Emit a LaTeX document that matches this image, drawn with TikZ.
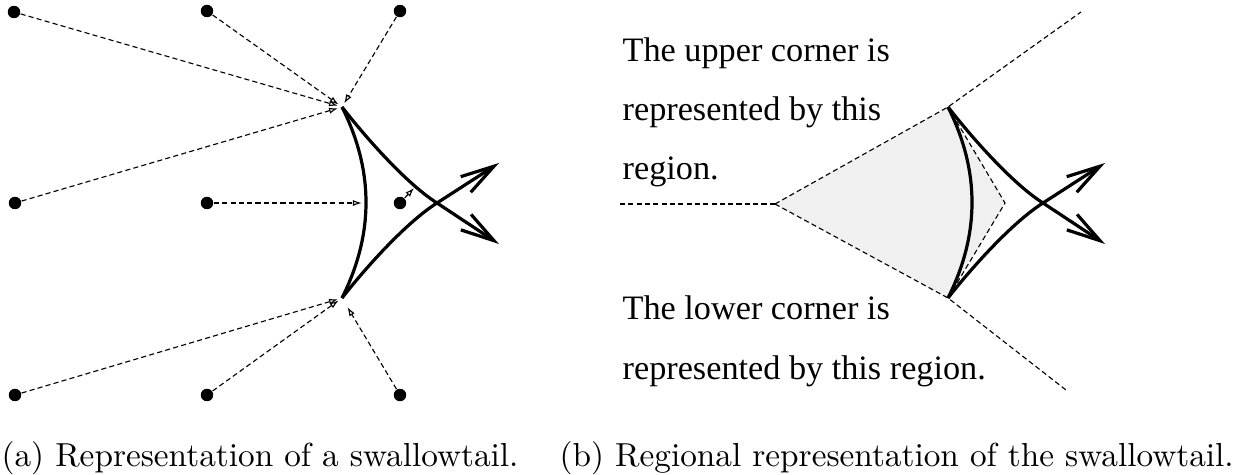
\documentclass[tikz,border=0pt]{standalone}
\usepackage{fontspec}
\newfontfamily\timesfont{Liberation Serif}
\usetikzlibrary{arrows.meta}
\begin{document}
\begin{tikzpicture}[x=0.3125pt,y=-0.3125pt,
  dot/.style={circle,fill=black,inner sep=0pt,minimum size=3.9pt},
  dline/.style={dash pattern=on 1.6pt off 1pt, line width=0.35pt},
  darrow/.style={dline, -{Latex[open,length=2.8pt,width=1.9pt]}, shorten >=1.3pt},
  thickcurve/.style={line width=1pt},
  barbarrow/.style={-{Straight Barb[length=10.5pt,width=5.8pt,line width=1pt]}},
  lbl/.style={anchor=base west,inner sep=0pt,font=\timesfont\fontsize{10.7}{13}\selectfont},
  captext/.style={anchor=base west,inner sep=0pt,font=\fontsize{10.4}{12}\selectfont}]
\useasboundingbox (0,0) rectangle (1239,475);

% ---------- panel (a) ----------
\coordinate (uc) at (342,107);
\coordinate (lc) at (342,298);
\coordinate (cr) at (437,203);
\coordinate (tu) at (499,163);
\coordinate (td) at (499,244);
\coordinate (am) at (366,203);
\coordinate (d6t) at (414,188);

\node[dot] (d1) at (14,12) {};
\node[dot] (d2) at (207,11) {};
\node[dot] (d3) at (400,11) {};
\node[dot] (d4) at (15,203) {};
\node[dot] (d5) at (207,203) {};
\node[dot] (d6) at (400,203) {};
\node[dot] (d7) at (15,395) {};
\node[dot] (d8) at (207,395) {};
\node[dot] (d9) at (400,395) {};

\draw[darrow] (d1) -- (uc);
\draw[darrow] (d2) -- (uc);
\draw[darrow] (d3) -- (uc);
\draw[darrow] (d4) -- (uc);
\draw[darrow] (d5) -- (am);
\draw[darrow, shorten >=0pt] (d6) -- (d6t);
\draw[darrow] (d7) -- (lc);
\draw[darrow] (d8) -- (lc);
\draw[darrow, shorten >=3.3pt] (d9) -- (lc);

\draw[thickcurve] (uc) .. controls (374,171) and (374,234) .. (lc);
\draw[thickcurve, barbarrow] (uc) .. controls (367,139) and (407,184) .. (cr) -- (td);
\draw[thickcurve, barbarrow] (lc) .. controls (367,266) and (407,222) .. (cr) -- (tu);

% ---------- panel (b) ----------
\coordinate (uc2) at (948,107);
\coordinate (lc2) at (948,298);
\coordinate (cr2) at (1043,203);
\coordinate (tu2) at (1105,163);
\coordinate (td2) at (1105,244);
\coordinate (v) at (775,204);
\coordinate (lend) at (620,204);
\coordinate (uend) at (1081,12);
\coordinate (bend) at (1066,390);
\coordinate (ip) at (1005,203);

\fill[black!6] (v) -- (uc2) -- (ip) -- (lc2) -- cycle;
\draw[dline] (lend) -- (v);
\draw[dline] (v) -- (uc2) -- (uend);
\draw[dline] (v) -- (lc2) -- (bend);
\draw[dline] (uc2) -- (ip) -- (lc2);

\draw[thickcurve] (uc2) .. controls (980,171) and (980,234) .. (lc2);
\draw[thickcurve, barbarrow] (uc2) .. controls (973,139) and (1013,184) .. (cr2) -- (td2);
\draw[thickcurve, barbarrow] (lc2) .. controls (973,266) and (1013,222) .. (cr2) -- (tu2);

\node[lbl] (t1) at (622,62) {The upper corner is};
\node[lbl] (t2) at (622,121) {represented by this};
\node[lbl] (t3) at (622,180) {region.};
\node[lbl] (t4) at (622,320) {The lower corner is};
\node[lbl] (t5) at (622,380) {represented by this region.};

% ---------- captions ----------
\node[captext] (ca) at (1,467) {(a) Representation of a swallowtail.};
\node[captext] (cb) at (559,467) {(b) Regional representation of the swallowtail.};
\end{tikzpicture}
\end{document}
